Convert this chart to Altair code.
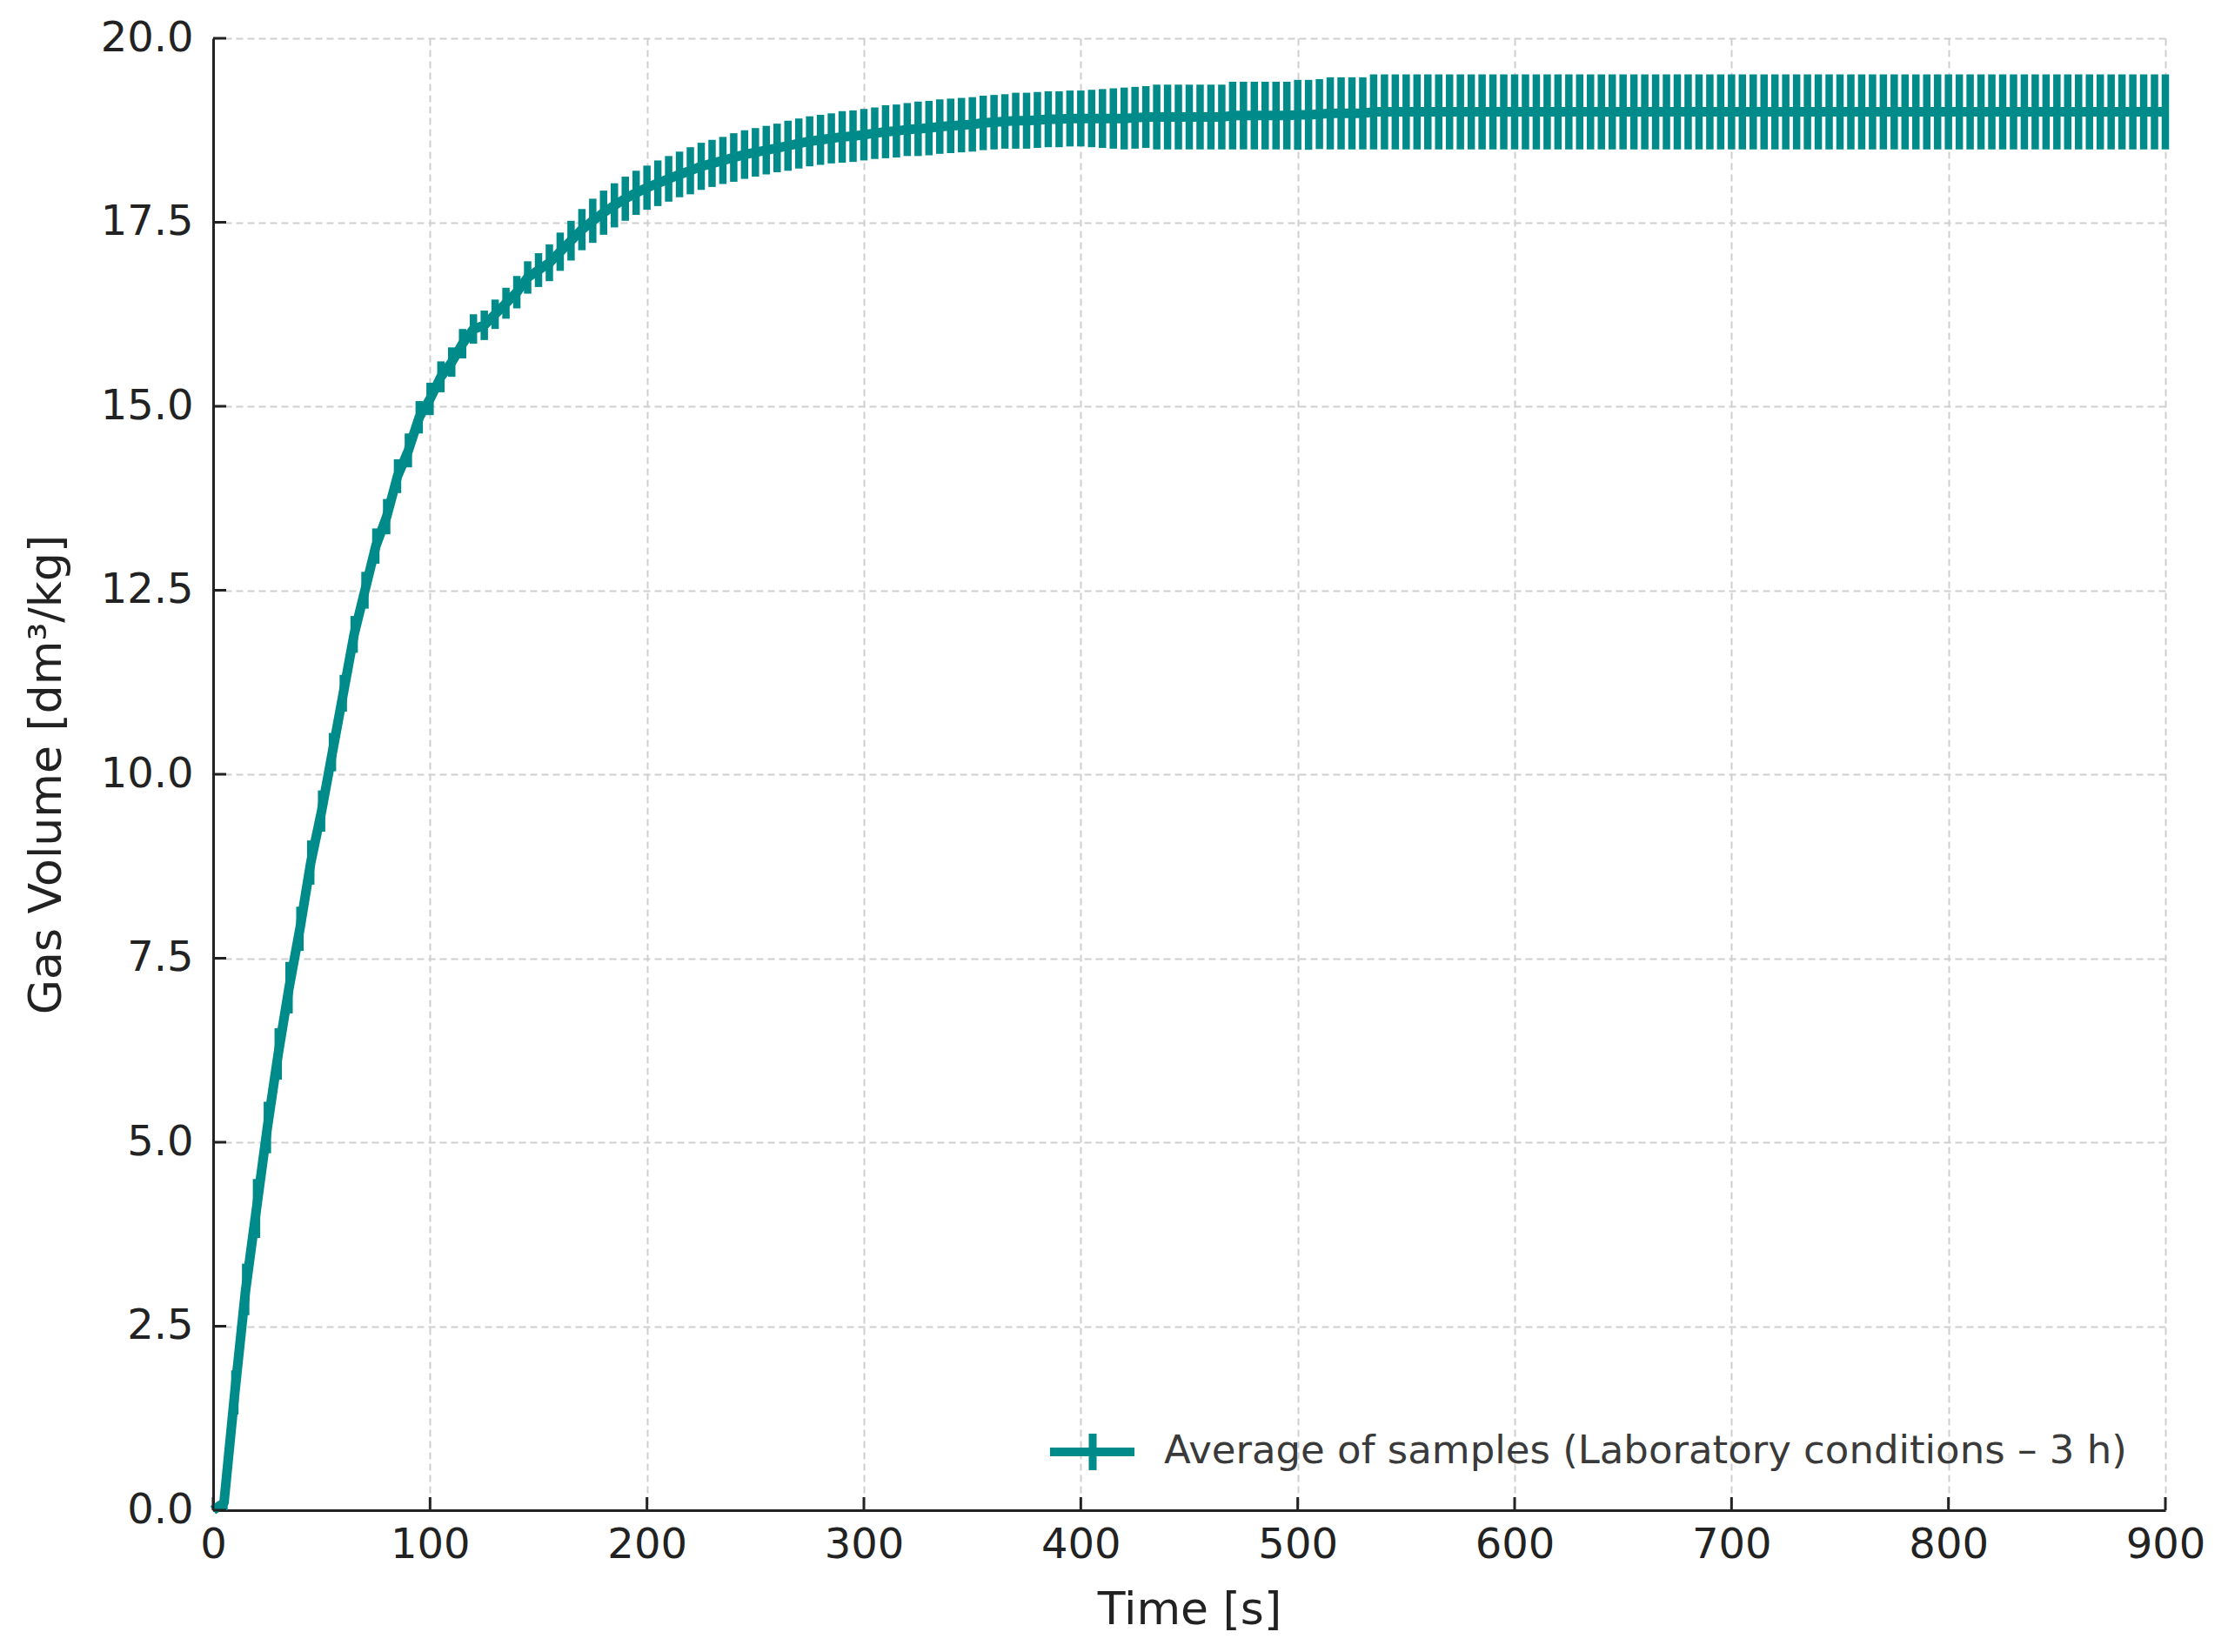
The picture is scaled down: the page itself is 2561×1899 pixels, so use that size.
import altair as alt
import pandas as pd

# ---- data ----
time_s = list(range(0, 905, 5))

mean_volume = [
    0.0, 0.1, 1.6, 3.0, 4.1, 5.2, 6.2, 7.1, 7.9, 8.8,
    9.5, 10.3, 11.1, 11.9, 12.5, 13.1, 13.5, 14.05, 14.4, 14.85,
    15.1, 15.4, 15.6, 15.85, 16.05, 16.1, 16.25, 16.4, 16.55, 16.75,
    16.85, 16.95, 17.1, 17.25, 17.4, 17.52, 17.63, 17.73, 17.82, 17.9,
    17.97, 18.03, 18.09, 18.15, 18.2, 18.26, 18.3, 18.34, 18.38, 18.42,
    18.45, 18.48, 18.51, 18.54, 18.57, 18.6, 18.62, 18.64, 18.66, 18.67,
    18.69, 18.71, 18.73, 18.74, 18.76, 18.77, 18.78, 18.8, 18.81, 18.82,
    18.83, 18.85, 18.86, 18.87, 18.88, 18.88, 18.89, 18.9, 18.9, 18.91,
    18.91, 18.91, 18.91, 18.91, 18.91, 18.92, 18.93, 18.93, 18.93, 18.93,
    18.93, 18.93, 18.93, 18.93, 18.95, 18.95, 18.95, 18.95, 18.95, 18.95,
    18.96, 18.96, 18.97, 18.98, 18.98, 18.98, 18.98, 19.0, 19.0, 19.0,
    19.0, 19.0, 19.0, 19.0, 19.0, 19.0, 19.0, 19.0, 19.0, 19.0,
    19.0, 19.0, 19.0, 19.0, 19.0, 19.0, 19.0, 19.0, 19.0, 19.0,
    19.0, 19.0, 19.0, 19.0, 19.0, 19.0, 19.0, 19.0, 19.0, 19.0,
    19.0, 19.0, 19.0, 19.0, 19.0, 19.0, 19.0, 19.0, 19.0, 19.0,
    19.0, 19.0, 19.0, 19.0, 19.0, 19.0, 19.0, 19.0, 19.0, 19.0,
    19.0, 19.0, 19.0, 19.0, 19.0, 19.0, 19.0, 19.0, 19.0, 19.0,
    19.0, 19.0, 19.0, 19.0, 19.0, 19.0, 19.0, 19.0, 19.0, 19.0,
    19.0,
]

error_volume = [
    0.0, 0.1, 0.3, 0.35, 0.4, 0.35, 0.35, 0.35, 0.3, 0.3,
    0.28, 0.26, 0.25, 0.25, 0.25, 0.24, 0.24, 0.23, 0.23, 0.22,
    0.22, 0.21, 0.2, 0.2, 0.2, 0.2, 0.2, 0.21, 0.22, 0.22,
    0.23, 0.25, 0.26, 0.27, 0.28, 0.3, 0.3, 0.3, 0.3, 0.3,
    0.3, 0.31, 0.31, 0.31, 0.32, 0.32, 0.32, 0.32, 0.33, 0.33,
    0.33, 0.33, 0.33, 0.34, 0.34, 0.34, 0.34, 0.34, 0.35, 0.35,
    0.35, 0.35, 0.36, 0.36, 0.36, 0.37, 0.37, 0.37, 0.37, 0.37,
    0.37, 0.37, 0.37, 0.37, 0.38, 0.38, 0.38, 0.38, 0.38, 0.38,
    0.38, 0.39, 0.4, 0.41, 0.42, 0.42, 0.42, 0.44, 0.44, 0.44,
    0.44, 0.44, 0.44, 0.44, 0.46, 0.46, 0.46, 0.46, 0.46, 0.46,
    0.475, 0.475, 0.475, 0.49, 0.49, 0.49, 0.49, 0.51, 0.51, 0.51,
    0.51, 0.51, 0.51, 0.51, 0.51, 0.51, 0.51, 0.51, 0.51, 0.51,
    0.51, 0.51, 0.51, 0.51, 0.51, 0.51, 0.51, 0.51, 0.51, 0.51,
    0.51, 0.51, 0.51, 0.51, 0.51, 0.51, 0.51, 0.51, 0.51, 0.51,
    0.51, 0.51, 0.51, 0.51, 0.51, 0.51, 0.51, 0.51, 0.51, 0.51,
    0.51, 0.51, 0.51, 0.51, 0.51, 0.51, 0.51, 0.51, 0.51, 0.51,
    0.51, 0.51, 0.51, 0.51, 0.51, 0.51, 0.51, 0.51, 0.51, 0.51,
    0.51, 0.51, 0.51, 0.51, 0.51, 0.51, 0.51, 0.51, 0.51, 0.51,
    0.51,
]

x_ticks = [0, 100, 200, 300, 400, 500, 600, 700, 800, 900]
y_ticks = [0.0, 2.5, 5.0, 7.5, 10.0, 12.5, 15.0, 17.5, 20.0]
legend_label = ["Average of samples (Laboratory conditions \u2013 3 h)"]
x_title = "Time [s]"
y_title = "Gas Volume [dm\u00b3/kg]"

# ---- style ----
TEAL = "#008b8b"
FONT = "DejaVu Sans"
W, H = 2244, 1692
TICK_LEN = 15

df = pd.DataFrame({
    "t": time_s,
    "mean": mean_volume,
    "lo": [m - e for m, e in zip(mean_volume, error_volume)],
    "hi": [m + e for m, e in zip(mean_volume, error_volume)],
})

x_scale = alt.Scale(domain=[0, 900], nice=False, zero=False)
y_scale = alt.Scale(domain=[0, 20], nice=False)

x_axis = alt.Axis(values=x_ticks, title=x_title, format="d", labelFlush=False,
                  labelOverlap=False, labelPadding=16, titlePadding=25,
                  ticks=False, tickSize=0)
y_axis = alt.Axis(values=y_ticks, title=y_title, format=".1f", labelFlush=False,
                  labelOverlap=False, labelPadding=23, titlePadding=35,
                  ticks=False, tickSize=0)

base = alt.Chart(df)

bars = base.mark_rule(color=TEAL, strokeWidth=8.5).encode(
    x=alt.X("t:Q", scale=x_scale, axis=x_axis),
    y=alt.Y("lo:Q", scale=y_scale, axis=y_axis),
    y2="hi:Q",
)

line = base.mark_line(color=TEAL, strokeWidth=11, strokeJoin="round").encode(
    x=alt.X("t:Q", scale=x_scale),
    y=alt.Y("mean:Q", scale=y_scale),
)

xtick_df = pd.DataFrame({"tx": x_ticks})
ytick_df = pd.DataFrame({"ty": y_ticks})

xticks = alt.Chart(xtick_df).mark_rule(color="#222222", strokeWidth=3).encode(
    x=alt.X("tx:Q", scale=x_scale),
    y=alt.value(H - TICK_LEN),
    y2=alt.value(H),
)
yticks = alt.Chart(ytick_df).mark_rule(color="#222222", strokeWidth=3).encode(
    y=alt.Y("ty:Q", scale=y_scale),
    x=alt.value(0),
    x2=alt.value(TICK_LEN),
)

leg_df = pd.DataFrame({"label": legend_label})
leg_line = alt.Chart(leg_df).mark_rule(color=TEAL, strokeWidth=10).encode(
    x=alt.value(962), x2=alt.value(1059), y=alt.value(1625),
)
leg_bar = alt.Chart(leg_df).mark_rule(color=TEAL, strokeWidth=9).encode(
    x=alt.value(1011), y=alt.value(1604), y2=alt.value(1646),
)
leg_text = alt.Chart(leg_df).mark_text(
    font=FONT, fontSize=45, align="left", baseline="middle", color="#3a3a3a"
).encode(text="label:N", x=alt.value(1093), y=alt.value(1624))

chart = alt.layer(bars, line, xticks, yticks, leg_line, leg_bar, leg_text).properties(
    width=W, height=H,
    background="white",
    autosize=alt.AutoSizeParams(type="none"),
    padding={"left": 237, "top": 36, "right": 60, "bottom": 150},
).configure_view(stroke=None).configure_axis(
    labelFont=FONT, titleFont=FONT, labelFontSize=48, titleFontSize=52,
    labelColor="#222222", titleColor="#222222", titleFontWeight="normal",
    domainColor="#222222", domainWidth=3,
    grid=True, gridColor="#cfcfcf", gridDash=[8, 5], gridWidth=2,
)

chart.save("out.html", embed_options={"renderer": "svg", "actions": False})
